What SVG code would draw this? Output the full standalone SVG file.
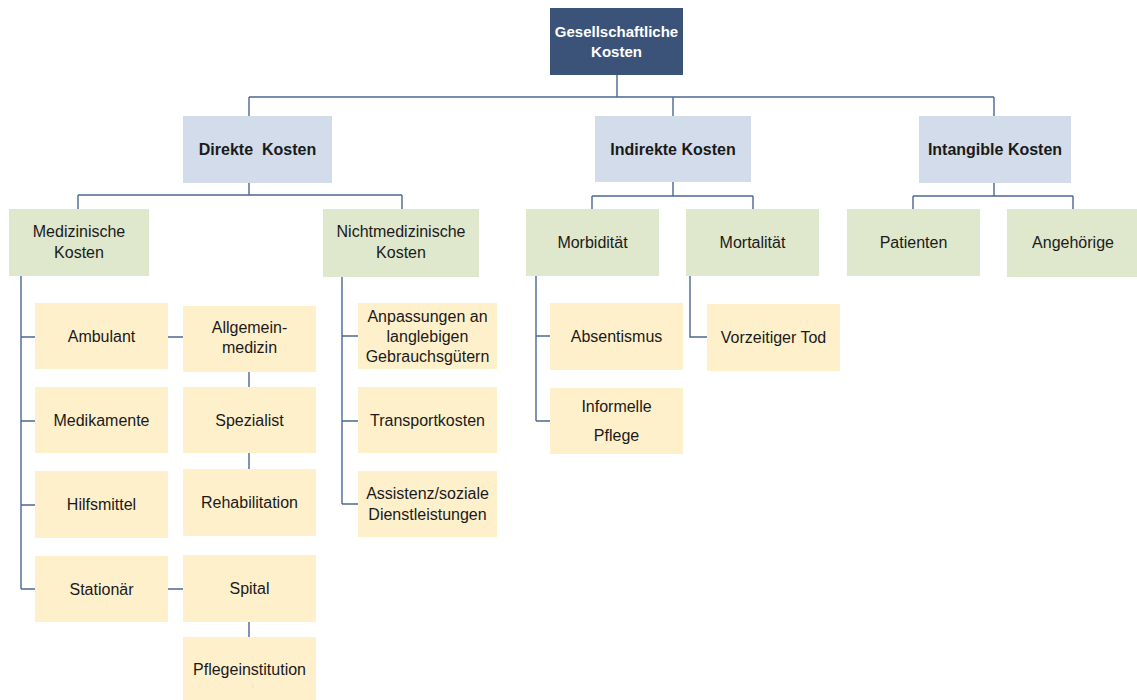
<svg xmlns="http://www.w3.org/2000/svg" width="1137" height="700" viewBox="0 0 1137 700">
<style>
text{font-family:"Liberation Sans","Open Sans",sans-serif;font-size:16px;fill:#1a1a1a;text-anchor:middle}
.t{font-weight:bold;font-size:16px}
.root text{fill:#fff;font-weight:bold;font-size:15px}
.root rect{fill:#3b5379}
.l1 rect{fill:#d3dcea}
.l2 rect{fill:#dfe7cd}
.l3 rect{fill:#fff0cc}
#connectors path{fill:none;stroke:#4b6795;stroke-width:1.4}
</style>
<rect width="1137" height="700" fill="#fff"/>
<g id="connectors">
<path d="M617,75V97M249,97H994M249,97V116M673,97V116M994,97V116"/>
<path d="M249,183V195M78,195H402M78,195V209M402,195V209"/>
<path d="M21,276V589M21,337H35M21,421H35M21,505H35M21,589H35"/>
<path d="M168,337H183M249,372V387M249,453V469M165,589H183M249,622V637"/>
<path d="M342,277V504M342,336H358M342,421H358M342,504H358"/>
<path d="M673,182V196M592,196H753M592,196V209M753,196V209"/>
<path d="M536,276V421M536,336H550M536,421H550"/>
<path d="M690,276V337H707"/>
<path d="M994,183V196M913,196H1073M913,196V209M1073,196V209"/>
</g>
<g id="n-root" class="root"><rect x="550" y="8" width="133" height="67"/><text x="616.5" y="37">Gesellschaftliche</text><text x="616.5" y="57">Kosten</text></g>
<g id="n-direkte" class="l1"><rect x="183" y="116" width="149" height="67"/><text class="t" x="257.5" y="155">Direkte&#160; Kosten</text></g>
<g id="n-indirekte" class="l1"><rect x="595" y="116" width="156" height="66"/><text class="t" x="673" y="154.5">Indirekte Kosten</text></g>
<g id="n-intangible" class="l1"><rect x="919" y="116" width="152" height="67"/><text class="t" x="995" y="155">Intangible Kosten</text></g>
<g id="n-medizinische" class="l2"><rect x="9" y="209" width="140" height="67"/><text x="79" y="237">Medizinische</text><text x="79" y="258">Kosten</text></g>
<g id="n-nichtmed" class="l2"><rect x="323" y="209" width="156" height="68"/><text x="401" y="237">Nichtmedizinische</text><text x="401" y="258">Kosten</text></g>
<g id="n-morbiditaet" class="l2"><rect x="526" y="209" width="133" height="67"/><text x="592.5" y="248">Morbidität</text></g>
<g id="n-mortalitaet" class="l2"><rect x="686" y="209" width="133" height="67"/><text x="752.5" y="248">Mortalität</text></g>
<g id="n-patienten" class="l2"><rect x="847" y="209" width="133" height="67"/><text x="913.5" y="248">Patienten</text></g>
<g id="n-angehoerige" class="l2"><rect x="1007" y="209" width="133" height="68"/><text x="1073" y="248">Angehörige</text></g>
<g id="n-ambulant" class="l3"><rect x="35" y="303" width="133" height="66"/><text x="101.5" y="341.5">Ambulant</text></g>
<g id="n-medikamente" class="l3"><rect x="35" y="387" width="133" height="66"/><text x="101.5" y="425.5">Medikamente</text></g>
<g id="n-hilfsmittel" class="l3"><rect x="35" y="471" width="133" height="67"/><text x="101.5" y="510">Hilfsmittel</text></g>
<g id="n-stationaer" class="l3"><rect x="35" y="556" width="133" height="66"/><text x="101.5" y="594.5">Stationär</text></g>
<g id="n-allgemein" class="l3"><rect x="183" y="306" width="133" height="66"/><text x="249.5" y="333">Allgemein-</text><text x="249.5" y="353">medizin</text></g>
<g id="n-spezialist" class="l3"><rect x="183" y="387" width="133" height="66"/><text x="249.5" y="425.5">Spezialist</text></g>
<g id="n-rehab" class="l3"><rect x="183" y="469" width="133" height="67"/><text x="249.5" y="508">Rehabilitation</text></g>
<g id="n-spital" class="l3"><rect x="183" y="555" width="133" height="67"/><text x="249.5" y="594">Spital</text></g>
<g id="n-pflegeinst" class="l3"><rect x="183" y="637" width="133" height="63"/><text x="249.5" y="675">Pflegeinstitution</text></g>
<g id="n-anpassungen" class="l3"><rect x="358" y="303" width="139" height="66"/><text x="427.5" y="322">Anpassungen an</text><text x="427.5" y="342">langlebigen</text><text x="427.5" y="362">Gebrauchsgütern</text></g>
<g id="n-transport" class="l3"><rect x="358" y="387" width="139" height="66"/><text x="427.5" y="425.5">Transportkosten</text></g>
<g id="n-assistenz" class="l3"><rect x="358" y="471" width="139" height="66"/><text x="427.5" y="499">Assistenz/soziale</text><text x="427.5" y="520">Dienstleistungen</text></g>
<g id="n-absentismus" class="l3"><rect x="550" y="303" width="133" height="67"/><text x="616.5" y="342">Absentismus</text></g>
<g id="n-informelle" class="l3"><rect x="550" y="388" width="133" height="66"/><text x="616.5" y="412">Informelle</text><text x="616.5" y="441">Pflege</text></g>
<g id="n-vorzeitig" class="l3"><rect x="707" y="304" width="133" height="67"/><text x="773.5" y="343">Vorzeitiger Tod</text></g>
</svg>
